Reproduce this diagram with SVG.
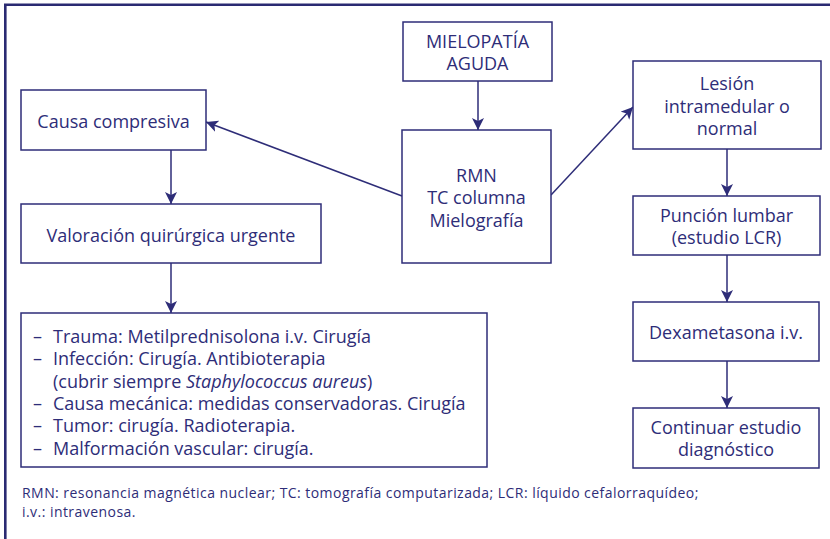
<svg xmlns="http://www.w3.org/2000/svg" width="830" height="539" viewBox="0 0 830 539">
<defs>
<style>
.box{fill:#fff;stroke:#2e2d78;stroke-width:1.5}
.t{font-family:"Open Sans","Noto Sans",sans-serif;font-size:18px;fill:#2e2d78;text-anchor:middle}
.l{font-family:"Open Sans","Noto Sans",sans-serif;font-size:18px;fill:#2e2d78}
.f{font-family:"Open Sans","Noto Sans",sans-serif;font-size:14px;letter-spacing:0.45px;fill:#2e2d78}
.c{fill:none;stroke:#2e2d78;stroke-width:1.5}
.frame{fill:none;stroke:#2a2a72;stroke-width:2.6}
</style>
<marker id="ah" viewBox="0 0 12 12" refX="12" refY="6" markerWidth="12" markerHeight="12" markerUnits="userSpaceOnUse" orient="auto">
<path d="M0,0 L12,6 L0,12 L3,6 Z" fill="#2e2d78"/>
</marker>
</defs>
<rect width="830" height="539" fill="#fff"/>
<path class="frame" d="M5.3,539 V4.7 H830"/>

<g id="connectors">
<line class="c" x1="478" y1="81" x2="478" y2="130" marker-end="url(#ah)"/>
<line class="c" x1="402" y1="196" x2="206" y2="122" marker-end="url(#ah)"/>
<line class="c" x1="551" y1="195" x2="633" y2="107" marker-end="url(#ah)"/>
<line class="c" x1="171" y1="150" x2="171" y2="204" marker-end="url(#ah)"/>
<line class="c" x1="171" y1="263" x2="171" y2="313" marker-end="url(#ah)"/>
<line class="c" x1="727" y1="149" x2="727" y2="196" marker-end="url(#ah)"/>
<line class="c" x1="727" y1="255" x2="727" y2="302" marker-end="url(#ah)"/>
<line class="c" x1="727" y1="361" x2="727" y2="408" marker-end="url(#ah)"/>
</g>

<g id="mielopatia">
<rect class="box" x="403" y="22" width="149" height="59"/>
<text class="t" x="477.5" y="48">MIELOPATÍA</text>
<text class="t" x="477.5" y="70">AGUDA</text>
</g>

<g id="rmn">
<rect class="box" x="402" y="130" width="149" height="133"/>
<text class="t" x="476.5" y="182">RMN</text>
<text class="t" x="476.5" y="204">TC columna</text>
<text class="t" x="476.5" y="227">Mielografía</text>
</g>

<g id="causa">
<rect class="box" x="21" y="90" width="185" height="60"/>
<text class="t" x="113.5" y="128">Causa compresiva</text>
</g>

<g id="valoracion">
<rect class="box" x="21" y="204" width="300" height="59"/>
<text class="t" x="171" y="242">Valoración quirúrgica urgente</text>
</g>

<g id="tratamientos">
<rect class="box" x="21" y="313" width="466" height="154"/>
<text class="l" x="33" y="343">–<tspan x="53">Trauma: Metilprednisolona i.v. Cirugía</tspan></text>
<text class="l" x="33" y="365">–<tspan x="53">Infección: Cirugía. Antibioterapia</tspan></text>
<text class="l" x="53" y="387.5">(cubrir siempre <tspan font-style="italic">Staphylococcus aureus</tspan>)</text>
<text class="l" x="33" y="410">–<tspan x="53">Causa mecánica: medidas conservadoras. Cirugía</tspan></text>
<text class="l" x="33" y="432">–<tspan x="53">Tumor: cirugía. Radioterapia.</tspan></text>
<text class="l" x="33" y="455">–<tspan x="53">Malformación vascular: cirugía.</tspan></text>
</g>

<g id="lesion">
<rect class="box" x="633" y="61" width="188" height="88"/>
<text class="t" x="727" y="90">Lesión</text>
<text class="t" x="727" y="113">intramedular o</text>
<text class="t" x="727" y="135">normal</text>
</g>

<g id="puncion">
<rect class="box" x="633" y="196" width="187" height="59"/>
<text class="t" x="726.5" y="222">Punción lumbar</text>
<text class="t" x="726.5" y="244">(estudio LCR)</text>
</g>

<g id="dexametasona">
<rect class="box" x="633" y="302" width="186" height="59"/>
<text class="t" x="726" y="339">Dexametasona i.v.</text>
</g>

<g id="continuar">
<rect class="box" x="633" y="408" width="186" height="60"/>
<text class="t" x="726" y="434">Continuar estudio</text>
<text class="t" x="726" y="456">diagnóstico</text>
</g>

<g id="nota">
<text class="f" x="22" y="497.5">RMN: resonancia magnética nuclear; TC: tomografía computarizada; LCR: líquido cefalorraquídeo;</text>
<text class="f" x="22" y="516.8">i.v.: intravenosa.</text>
</g>
</svg>
